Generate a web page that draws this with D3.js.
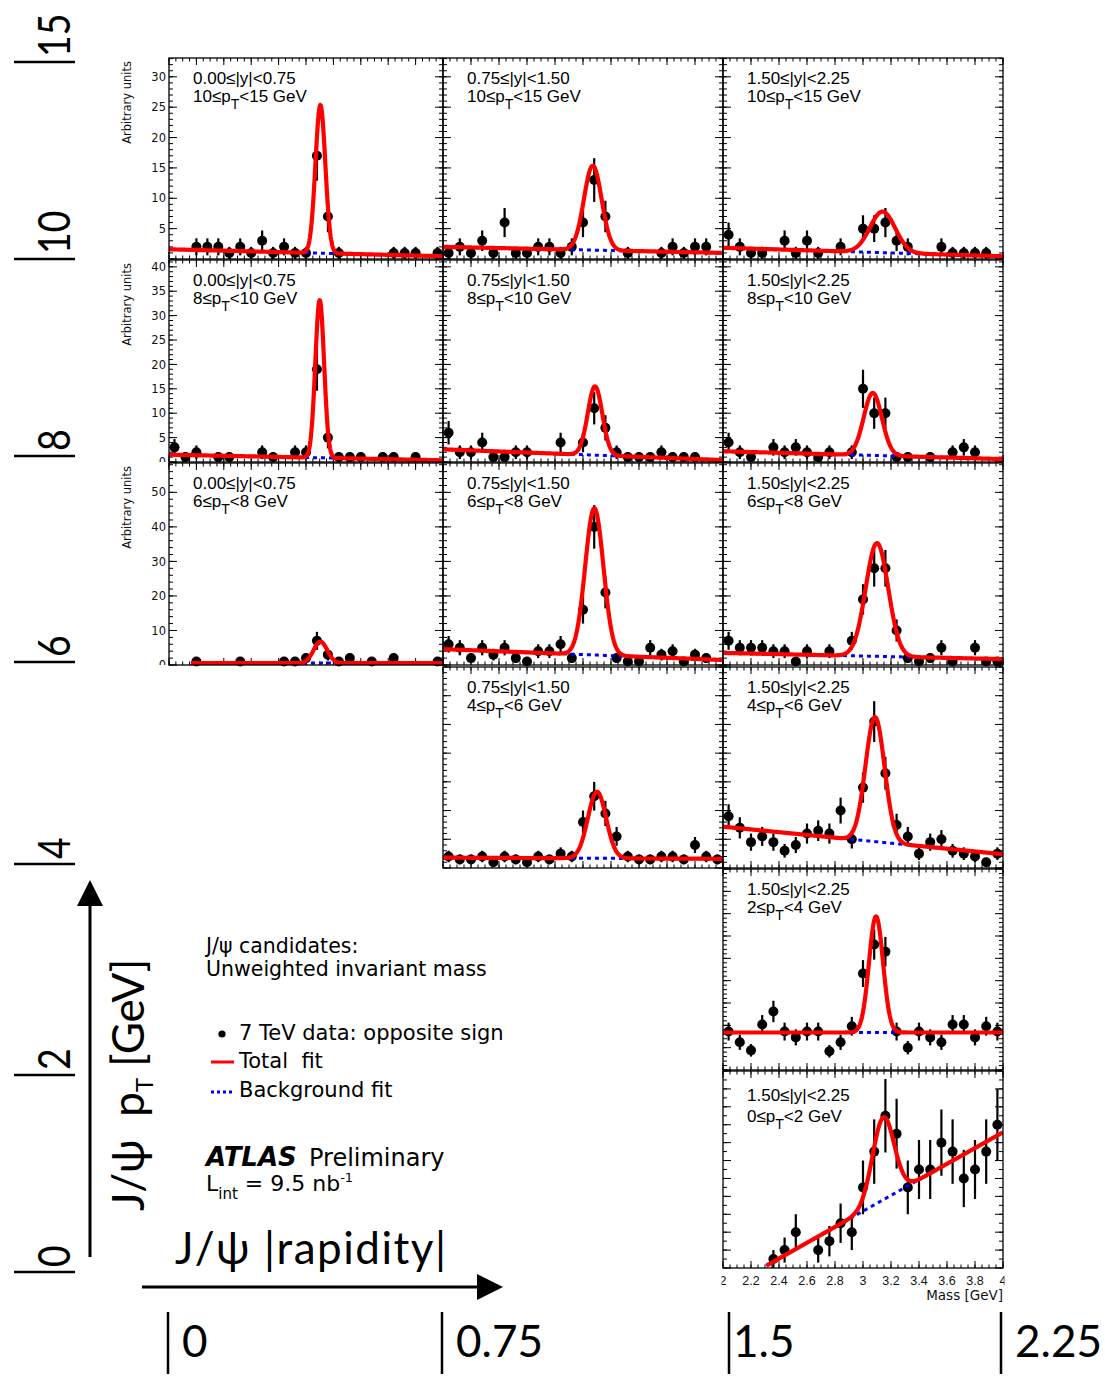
<!DOCTYPE html>
<html>
<head>
<meta charset="utf-8">
<script src="https://cdn.jsdelivr.net/npm/d3@7"></script>
<style>
  html, body { margin: 0; padding: 0; background: #fff; }
  svg { display: block; }
</style>
</head>
<body>
<svg id="chart" width="1105" height="1383"></svg>
<script>
// ---------------------------------------------------------------------------
// Histogram binning and axis labels
// ---------------------------------------------------------------------------
const massBins = [2.04, 2.12, 2.20, 2.28, 2.36, 2.44, 2.52, 2.60, 2.68, 2.76, 2.84, 2.92,
                  3.00, 3.08, 3.16, 3.24, 3.32, 3.40, 3.48, 3.56, 3.64, 3.72, 3.80, 3.88, 3.96];
const massTickValues = [2, 2.2, 2.4, 2.6, 2.8, 3, 3.2, 3.4, 3.6, 3.8, 4];
const massTickLabels = ["2", "2.2", "2.4", "2.6", "2.8", "3", "3.2", "3.4", "3.6", "3.8", "4"];

const rapidityBins = ["0.00\u2264|y|<0.75", "0.75\u2264|y|<1.50", "1.50\u2264|y|<2.25"];
const ptBins = [["10", "15"], ["8", "10"], ["6", "8"], ["4", "6"], ["2", "4"], ["0", "2"]];
const rapidityEdges = ["0", "0.75", "1.5", "2.25"];
const ptEdges = ["15", "10", "8", "6", "4", "2", "0"];

// y-axis range and tick steps of each pT row
const rowYMax   = [33.1, 41.4, 58.5, 70, 45, 22];
const rowYMajor = [5, 5, 10, 10, 5, 2];
const rowYMinor = [1, 1, 2, 2, 1, 1];

// ---------------------------------------------------------------------------
// Opposite-sign candidates per mass bin (null = empty bin) and their errors
// ---------------------------------------------------------------------------
const cnt_y0_pt10 = [null,null,2,2,2,1,2,1,3,1,2,1,1,17,7,1,null,null,null,null,1,1,1,null,1];
const err_y0_pt10 = [null,null,1.4,1.4,1.4,1,1.4,1,1.7,1,1.4,1,1,4.1,2.6,1,null,null,null,null,1,1,1,null,1];

const cnt_y1_pt10 = [1,2,1,3,1,6,1,1,2,2,1,2,6,13,7,null,1,null,null,1,2,1,2,2,null];
const err_y1_pt10 = [1,1.4,1,1.7,1,2.4,1,1,1.4,1.4,1,1.4,2.4,3.6,2.6,null,1,null,null,1,1.4,1,1.4,1.4,null];

const cnt_y2_pt10 = [4,2,1,1,null,3,1,3,1,null,2,null,5,5,6,3,2,null,null,2,1,1,1,1,null];
const err_y2_pt10 = [2,1.4,1,1,null,1.7,1,1.7,1,null,1.4,null,2.2,2.2,2.4,1.7,1.4,null,null,1.4,1,1,1,1,null];

const cnt_y0_pt8 = [3,1,2,null,1,1,null,null,2,1,null,2,2,19,5,1,1,1,null,1,1,null,1,null,null];
const err_y0_pt8 = [1.7,1,1.4,null,1,1,null,null,1.4,1,null,1.4,1.4,4.4,2.2,1,1,1,null,1,1,null,1,null,null];

const cnt_y1_pt8 = [6,2,2,4,1,1,2,2,null,null,4,null,4,11,7,2,1,1,1,2,1,1,1,null,null];
const err_y1_pt8 = [2.4,1.4,1.4,2,1,1,1.4,1.4,null,null,2,null,2,3.3,2.6,1.4,1,1,1,1.4,1,1,1,null,null];

const cnt_y2_pt8 = [4,2,1,null,3,2,3,2,1,2,null,2,15,10,10,1,1,null,1,null,2,3,2,null,null];
const err_y2_pt8 = [2,1.4,1,null,1.7,1.4,1.7,1.4,1,1.4,null,1.4,3.9,3.2,3.2,1,1,null,1,null,1.4,1.7,1.4,null,null];

const cnt_y0_pt6 = [null,null,1,null,null,null,1,null,null,null,1,1,2,7,3,1,2,null,1,null,2,null,null,null,1];
const err_y0_pt6 = [null,null,1,null,null,null,1,null,null,null,1,1,1.4,2.6,1.7,1,1.4,null,1,null,1.4,null,null,null,1];

const cnt_y1_pt6 = [6,5,2,5,3,5,2,1,4,4,6,2,16,40,21,2,1,1,5,3,4,1,3,2,null];
const err_y1_pt6 = [2.4,2.2,1.4,2.2,1.7,2.2,1.4,1,2,2,2.4,1.4,4,6.3,4.6,1.4,1,1,2.2,1.7,2,1,1.7,1.4,null];

const cnt_y2_pt6 = [7,5,5,5,4,4,1,4,null,4,null,7,19,28,28,10,2,1,2,5,1,null,5,1,1];
const err_y2_pt6 = [2.6,2.2,2.2,2.2,2,2,1,2,null,2,null,2.6,4.4,5.3,5.3,3.2,1.4,1,1.4,2.2,1,null,2.2,1,1];

const cnt_y1_pt4 = [4,3,3,4,2,4,3,2,4,3,5,4,16,25,19,11,4,3,3,4,4,3,8,4,3];
const err_y1_pt4 = [2,1.7,1.7,2,1.4,2,1.7,1.4,2,1.7,2.2,2,4,5,4.4,3.3,2,1.7,1.7,2,2,1.7,2.8,2,1.7];

const cnt_y2_pt4 = [18,14,9,11,9,6,8,12,13,12,20,10,28,51,33,15,11,5,9,10,6,5,4,2,5];
const err_y2_pt4 = [4.2,3.7,3,3.3,3,2.4,2.8,3.5,3.6,3.5,4.5,3.2,5.3,7.1,5.7,3.9,3.3,2.2,3,3.2,2.4,2.2,2,1.4,2.2];

const cnt_y2_pt2 = [8.6,6.2,4.4,10.2,13.1,8.6,7.3,8.6,8.6,4.2,6.2,9.8,21.6,28.1,26.5,8.6,5,8.6,7.3,6.2,10.2,10.2,7.3,9.8,8.6];
const err_y2_pt2 = [2.0,1.7,1.4,2.1,2.4,2.0,1.8,2.0,2.0,1.4,1.7,2.1,3.0,3.4,3.3,2.0,1.5,2.0,1.8,1.7,2.1,2.1,1.8,2.1,2.0];

const cnt_y2_pt0 = [null,null,null,null,1,2,4,null,2,3,5,4,9,13,17,15,9,11,11,14,13,10,11,13,16];
const err_y2_pt0 = [null,null,null,null,1,1.4,2,null,1.4,1.7,2.2,2,3,3.6,4.1,3.9,3,3.3,3.3,3.7,3.6,3.2,3.3,3.6,4];

// ---------------------------------------------------------------------------
// Fit results (Gaussian signal on a linear background), one entry per panel
// ---------------------------------------------------------------------------
const panelRow  = [0, 0, 0, 1, 1, 1, 2, 2, 2, 3, 3, 4, 5];
const panelCol  = [0, 1, 2, 0, 1, 2, 0, 1, 2, 1, 2, 2, 2];
const fitMean   = [3.105, 3.07, 3.14, 3.10, 3.086, 3.07, 3.105, 3.081, 3.10, 3.10, 3.086, 3.093, 3.145];
const fitSigma  = [0.036, 0.063, 0.09, 0.032, 0.052, 0.065, 0.05, 0.065, 0.08, 0.065, 0.068, 0.05, 0.077];
const fitAmp    = [24.4, 13.9, 6.75, 32.3, 14.1, 12.8, 6.2, 42.5, 32.8, 23.2, 43.4, 26, 9.2];
const fitBgAt2  = [1.6, 2.0, 1.85, 1.5, 2.6, 2.2, 0.55, 4.6, 3.5, 3.6, 14.4, 8.4, -2.47];
const fitBgAt4  = [0.45, 1.0, 0.45, 0.35, 0.4, 0.6, 0.55, 1.45, 1.7, 3.2, 4.8, 8.4, 15.16];
const fitFrom   = [2, 2, 2, 2, 2, 2, 2.16, 2, 2, 2, 2, 2, 2.31];

const panelCounts = [cnt_y0_pt10, cnt_y1_pt10, cnt_y2_pt10, cnt_y0_pt8, cnt_y1_pt8, cnt_y2_pt8,
                     cnt_y0_pt6, cnt_y1_pt6, cnt_y2_pt6, cnt_y1_pt4, cnt_y2_pt4, cnt_y2_pt2, cnt_y2_pt0];
const panelErrors = [err_y0_pt10, err_y1_pt10, err_y2_pt10, err_y0_pt8, err_y1_pt8, err_y2_pt8,
                     err_y0_pt6, err_y1_pt6, err_y2_pt6, err_y1_pt4, err_y2_pt4, err_y2_pt2, err_y2_pt0];

// ---------------------------------------------------------------------------
// Layout
// ---------------------------------------------------------------------------
const colX = [169, 443, 723];
const colW = [274, 280, 280];
const rowTop = [58, 260, 463, 667, 869, 1071];
const rowBot = [259, 462, 665, 868, 1070, 1268];

const ptEdgeY = [62, 259, 456, 662, 864, 1075, 1272];
const rapEdgeX = [168, 442, 729, 1001];

const ROOT_FONT = "'DejaVu Sans', Verdana, sans-serif";
const LABEL_FONT = "'Liberation Sans', Arial, Helvetica, sans-serif";
const TICK_FONT = "'Liberation Sans', Arial, sans-serif";
const BIG_FONT = "Lato, 'Open Sans', sans-serif";
const RED = "#ff0000";
const BLUE = "#0000ff";

const svg = d3.select("#chart");
const defs = svg.append("defs");

const panels = panelRow.map((r, i) => ({
  row: r, col: panelCol[i],
  counts: panelCounts[i], errs: panelErrors[i],
  mean: fitMean[i], sigma: fitSigma[i], amp: fitAmp[i],
  bg2: fitBgAt2[i], bg4: fitBgAt4[i], from: fitFrom[i]
}));

panels.forEach((p, i) => {
  const x0 = colX[p.col], x1 = x0 + colW[p.col];
  const yT = rowTop[p.row], yB = rowBot[p.row];
  const x = d3.scaleLinear().domain([2, 4]).range([x0, x1]);
  const y = d3.scaleLinear().domain([0, rowYMax[p.row]]).range([yB, yT]);

  const clipId = "pad" + i;
  defs.append("clipPath").attr("id", clipId)
    .append("rect").attr("x", x0).attr("y", yT).attr("width", x1 - x0).attr("height", yB - yT);

  const g = svg.append("g");

  // tick marks on all four sides, pointing inwards
  const tg = g.append("g").attr("stroke", "#000").attr("stroke-width", 1);
  const xMinor = x.ticks(40), xMajor = massTickValues;
  const yMinor = d3.range(0, rowYMax[p.row] + 1e-6, rowYMinor[p.row]);
  const yMajor = d3.range(0, rowYMax[p.row] + 1e-6, rowYMajor[p.row]);
  const xTick = (vals, len) => {
    vals.forEach(v => {
      tg.append("line").attr("x1", x(v)).attr("x2", x(v)).attr("y1", yB).attr("y2", yB - len);
      tg.append("line").attr("x1", x(v)).attr("x2", x(v)).attr("y1", yT).attr("y2", yT + len);
    });
  };
  const yTick = (vals, len) => {
    vals.forEach(v => {
      tg.append("line").attr("x1", x0).attr("x2", x0 + len).attr("y1", y(v)).attr("y2", y(v));
      tg.append("line").attr("x1", x1).attr("x2", x1 - len).attr("y1", y(v)).attr("y2", y(v));
    });
  };
  xTick(xMinor, 3.5); xTick(xMajor, 7);
  yTick(yMinor, 4); yTick(yMajor, 8);

  // data points with statistical error bars
  const pts = massBins.map((m, k) => ({ m, v: p.counts[k], e: p.errs[k] })).filter(d => d.v != null);
  g.append("g").attr("clip-path", `url(#${clipId})`)
    .selectAll("line").data(pts).join("line")
    .attr("x1", d => x(d.m)).attr("x2", d => x(d.m))
    .attr("y1", d => y(d.v - d.e)).attr("y2", d => y(d.v + d.e))
    .attr("stroke", "#000").attr("stroke-width", 2.2);
  g.append("g").selectAll("circle").data(pts).join("circle")
    .attr("cx", d => x(d.m)).attr("cy", d => y(d.v)).attr("r", 5).attr("fill", "#000");

  // fit curves
  const grid = d3.range(p.from, 4.0001, 0.004);
  const bg = m => p.bg2 + (p.bg4 - p.bg2) * (m - 2) / 2;
  const total = m => bg(m) + p.amp * Math.exp(-0.5 * Math.pow((m - p.mean) / p.sigma, 2));
  const cg = g.append("g").attr("clip-path", `url(#${clipId})`).attr("fill", "none");
  cg.append("path")
    .attr("d", d3.line().x(m => x(m)).y(m => y(bg(m)))(grid))
    .attr("stroke", BLUE).attr("stroke-width", 3).attr("stroke-dasharray", "4,4");
  cg.append("path")
    .attr("d", d3.line().x(m => x(m)).y(m => y(total(m)))(grid))
    .attr("stroke", RED).attr("stroke-width", 4.2).attr("stroke-linejoin", "round");

  // frame
  g.append("rect").attr("x", x0).attr("y", yT).attr("width", x1 - x0).attr("height", yB - yT)
    .attr("fill", "none").attr("stroke", "#000").attr("stroke-width", 1.3);

  // bin description
  const lx = x0 + 24;
  const ly1 = yT + (p.row === 5 ? 30 : 25.5);
  const ly2 = ly1 + (p.row === 5 ? 21 : 18);
  g.append("text").attr("x", lx).attr("y", ly1)
    .attr("font-family", LABEL_FONT).attr("font-size", 17).attr("fill", "#000")
    .text(rapidityBins[p.col]);
  const t2 = g.append("text").attr("x", lx).attr("y", ly2)
    .attr("font-family", LABEL_FONT).attr("font-size", 17).attr("fill", "#000");
  t2.append("tspan").text(ptBins[p.row][0] + "\u2264p");
  t2.append("tspan").attr("dy", 7).attr("font-size", 14).text("T");
  t2.append("tspan").attr("dy", -7).text("<" + ptBins[p.row][1] + " GeV");

  // labelled y axis on the first column (the top pad's zero is hidden by the pad below)
  if (p.col === 0) {
    const lid = "lab" + i;
    defs.append("clipPath").attr("id", lid)
      .append("rect").attr("x", 100).attr("y", yT).attr("width", x0 - 100).attr("height", yB - yT);
    const labVals = p.row === 0 ? yMajor.filter(v => v > 0) : yMajor;
    g.append("g").attr("clip-path", `url(#${lid})`)
      .selectAll("text").data(labVals).join("text")
      .attr("x", x0 - 3).attr("y", d => y(d)).attr("dy", "0.36em")
      .attr("text-anchor", "end").attr("font-family", ROOT_FONT).attr("font-size", 11.5)
      .attr("fill", "#111").text(d => d);
    g.append("text")
      .attr("transform", `translate(131,${yT + 3}) rotate(-90)`)
      .attr("text-anchor", "end").attr("font-family", ROOT_FONT).attr("font-size", 11.5)
      .attr("fill", "#111").text("Arbitrary units");
  }

  // labelled mass axis under the last panel
  if (p.row === 5) {
    defs.append("clipPath").attr("id", "massLab")
      .append("rect").attr("x", x0 - 1.5).attr("y", yB).attr("width", x1 - x0 + 3).attr("height", 30);
    g.append("g").attr("clip-path", "url(#massLab)")
      .selectAll("text").data(massTickValues).join("text")
      .attr("x", d => x(d)).attr("y", yB + 17).attr("text-anchor", "middle")
      .attr("font-family", TICK_FONT).attr("font-size", 12.5).attr("fill", "#111")
      .text((d, k) => massTickLabels[k]);
    g.append("text").attr("x", x1).attr("y", yB + 32).attr("text-anchor", "end")
      .attr("font-family", ROOT_FONT).attr("font-size", 13.5).attr("fill", "#111")
      .text("Mass [GeV]");
  }
});

// ---------------------------------------------------------------------------
// Outer pT / rapidity grid annotation
// ---------------------------------------------------------------------------
const ann = svg.append("g").attr("fill", "#000");

ptEdges.forEach((lab, i) => {
  ann.append("line").attr("x1", 14).attr("x2", 75).attr("y1", ptEdgeY[i]).attr("y2", ptEdgeY[i])
    .attr("stroke", "#000").attr("stroke-width", 2.5);
  ann.append("text")
    .attr("transform", `translate(70,${ptEdgeY[i] - 5}) rotate(-90) scale(0.85,1)`)
    .attr("font-family", BIG_FONT).attr("font-size", 44).text(lab);
});

rapidityEdges.forEach((lab, i) => {
  ann.append("line").attr("x1", rapEdgeX[i]).attr("x2", rapEdgeX[i]).attr("y1", 1312).attr("y2", 1374)
    .attr("stroke", "#000").attr("stroke-width", 2.5);
  ann.append("text").attr("x", rapEdgeX[i] + (i === 2 ? 4 : 14)).attr("y", 1357)
    .attr("font-family", BIG_FONT).attr("font-size", 44).text(lab);
});

// arrows
ann.append("line").attr("x1", 90).attr("x2", 90).attr("y1", 1257).attr("y2", 900)
  .attr("stroke", "#000").attr("stroke-width", 3);
ann.append("path").attr("d", "M90,880 L77,906 L103,906 Z");
ann.append("line").attr("x1", 142).attr("x2", 480).attr("y1", 1287).attr("y2", 1287)
  .attr("stroke", "#000").attr("stroke-width", 3);
ann.append("path").attr("d", "M503,1287 L477,1274 L477,1300 Z");

// axis titles
const yTitle = ann.append("text")
  .attr("transform", "translate(144,1211) rotate(-90)")
  .attr("font-family", BIG_FONT).attr("font-size", 44).style("white-space", "pre");
yTitle.append("tspan").text("J/\u03c8  p");
yTitle.append("tspan").attr("dy", 9).attr("font-size", 24).text("T");
yTitle.append("tspan").attr("dy", -9).text(" [GeV]");

ann.append("text").attr("x", 175).attr("y", 1264)
  .attr("font-family", BIG_FONT).attr("font-size", 44).attr("letter-spacing", 1.5)
  .style("white-space", "pre").text("J/\u03c8 |rapidity|");

// ---------------------------------------------------------------------------
// Legend and labels
// ---------------------------------------------------------------------------
const leg = svg.append("g").attr("font-family", ROOT_FONT).attr("fill", "#000");
leg.append("text").attr("x", 206).attr("y", 953).attr("font-size", 20.5).text("J/\u03c8 candidates:");
leg.append("text").attr("x", 206).attr("y", 976).attr("font-size", 20.5).text("Unweighted invariant mass");

leg.append("circle").attr("cx", 222).attr("cy", 1034).attr("r", 3.6);
leg.append("text").attr("x", 239).attr("y", 1040).attr("font-size", 21).text("7 TeV data: opposite sign");
leg.append("line").attr("x1", 211).attr("x2", 234).attr("y1", 1062).attr("y2", 1062)
  .attr("stroke", RED).attr("stroke-width", 3);
leg.append("text").attr("x", 239).attr("y", 1068).attr("font-size", 21).style("white-space", "pre").text("Total  fit");
leg.append("line").attr("x1", 211).attr("x2", 234).attr("y1", 1092).attr("y2", 1092)
  .attr("stroke", BLUE).attr("stroke-width", 3).attr("stroke-dasharray", "3,3");
leg.append("text").attr("x", 239).attr("y", 1097).attr("font-size", 21).text("Background fit");

leg.append("text").attr("x", 206).attr("y", 1166).attr("font-size", 26)
  .attr("font-weight", "bold").attr("font-style", "italic").text("ATLAS");
leg.append("text").attr("x", 309).attr("y", 1166).attr("font-size", 24).text("Preliminary");

const lum = leg.append("text").attr("x", 206).attr("y", 1191).attr("font-size", 22).style("white-space", "pre");
lum.append("tspan").text("L");
lum.append("tspan").attr("dy", 8).attr("font-size", 15).text("int");
lum.append("tspan").attr("dy", -8).text(" = 9.5 nb");
lum.append("tspan").attr("dy", -9).attr("font-size", 13).text("-1");
</script>
</body>
</html>
